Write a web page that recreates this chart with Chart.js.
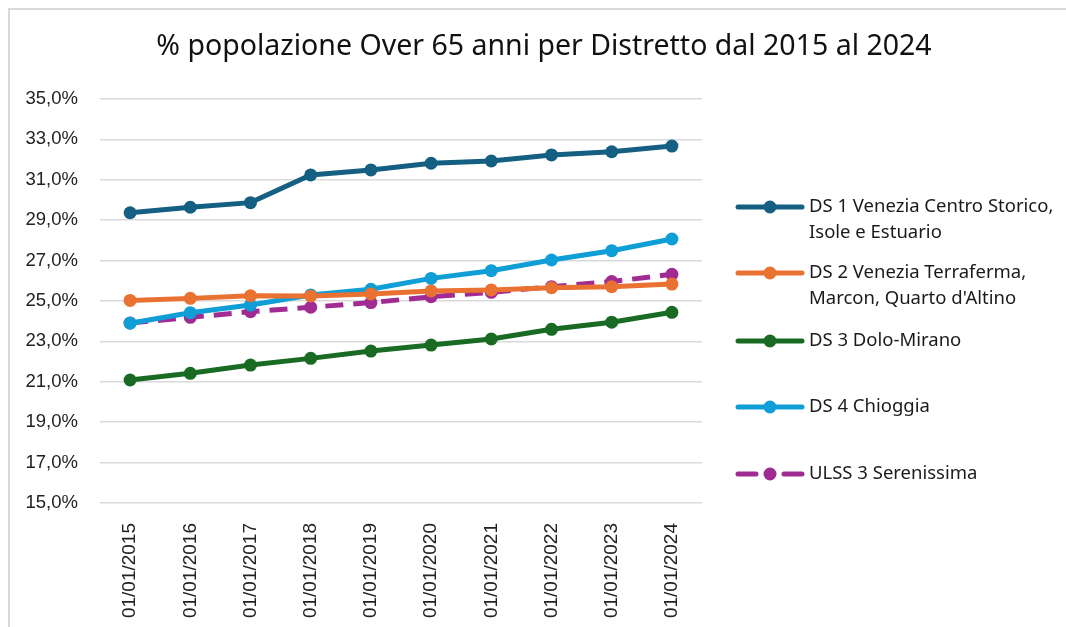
<!DOCTYPE html>
<html lang="it">
<head>
<meta charset="utf-8">
<title>% popolazione Over 65</title>
<script src="https://cdn.jsdelivr.net/npm/chart.js@4.4.1/dist/chart.umd.min.js"></script>
<style>
    body { margin: 0; background: #fff; }
    #chart-container { width: 1066px; height: 627px; }
</style>
</head>
<body>
<div id="chart-container">
    <canvas id="over65Chart" width="1066" height="627"></canvas>
</div>
<script>
// Etichette asse X (date di riferimento)
const DATE_LABELS = [
    '01/01/2015', '01/01/2016', '01/01/2017', '01/01/2018', '01/01/2019',
    '01/01/2020', '01/01/2021', '01/01/2022', '01/01/2023', '01/01/2024'
];

// Valori percentuali, uno per distretto
const DS1_VENEZIA_CS = [29.37, 29.64, 29.87, 31.24, 31.49, 31.82, 31.93, 32.23, 32.39, 32.67];
const DS2_TERRAFERMA = [25.03, 25.13, 25.26, 25.25, 25.35, 25.50, 25.55, 25.66, 25.71, 25.84];
const DS3_DOLO_MIRANO = [21.09, 21.42, 21.83, 22.16, 22.52, 22.82, 23.12, 23.60, 23.95, 24.44];
const DS4_CHIOGGIA = [23.90, 24.42, 24.80, 25.30, 25.58, 26.12, 26.50, 27.03, 27.49, 28.07];
const ULSS3_SERENISSIMA = [23.91, 24.19, 24.47, 24.69, 24.92, 25.21, 25.43, 25.71, 25.96, 26.32];

// Nomi delle serie (le righe della legenda)
const SERIES_NAMES = [
    ['DS 1 Venezia Centro Storico,', 'Isole e Estuario'],
    ['DS 2 Venezia Terraferma,', "Marcon, Quarto d'Altino"],
    ['DS 3 Dolo-Mirano'],
    ['DS 4 Chioggia'],
    ['ULSS 3 Serenissima']
];

const SERIES_COLORS = ['#156082', '#E97132', '#196B24', '#0F9ED5', '#A02B93'];

const Y_MIN = 15;
const Y_MAX = 35;
const Y_STEP = 2;

const TITLE_TEXT = '% popolazione Over 65 anni per Distretto dal 2015 al 2024';

document.addEventListener("DOMContentLoaded", () => {
    createOver65Chart();
});

/**
 * Formatta un valore come percentuale all'italiana (virgola decimale).
 */
function formatPercent(value) {
    return value.toFixed(1).replace('.', ',') + '%';
}

/**
 * Cornice grigia (solo lato superiore e sinistro visibili nel riferimento)
 * e titolo centrato su tutta la figura, non solo sull'area del grafico.
 */
const framePlugin = {
    id: 'frame',
    beforeDraw(chart) {
        const ctx = chart.ctx;
        ctx.save();
        ctx.strokeStyle = '#d9d9d9';
        ctx.lineWidth = 2;
        ctx.beginPath();
        ctx.moveTo(9, chart.height);
        ctx.lineTo(9, 9);
        ctx.lineTo(chart.width, 9);
        ctx.stroke();

        ctx.fillStyle = '#111';
        ctx.font = '28.5px "Noto Sans", sans-serif';
        ctx.textAlign = 'center';
        ctx.textBaseline = 'middle';
        ctx.fillText(TITLE_TEXT, 544, 47);
        ctx.restore();
    }
};

/**
 * Legenda disegnata a mano: Chart.js non manda a capo le etichette.
 */
const sideLegendPlugin = {
    id: 'sideLegend',
    afterDraw(chart) {
        const ctx = chart.ctx;
        const rowsY = [207, 273, 341, 407, 474];
        const lineGap = 26;
        const x0 = 738, x1 = 802, xm = 770, xText = 809;

        ctx.save();
        chart.data.datasets.forEach((ds, i) => {
            const y = rowsY[i];
            ctx.strokeStyle = ds.borderColor;
            ctx.lineWidth = 5;
            ctx.lineCap = 'round';
            if (ds.borderDash && ds.borderDash.length) {
                ctx.beginPath();
                ctx.moveTo(x0, y); ctx.lineTo(756, y);
                ctx.moveTo(784, y); ctx.lineTo(x1, y);
                ctx.stroke();
            } else {
                ctx.beginPath();
                ctx.moveTo(x0, y); ctx.lineTo(x1, y);
                ctx.stroke();
            }
            ctx.fillStyle = ds.borderColor;
            ctx.beginPath();
            ctx.arc(xm, y, 6.5, 0, Math.PI * 2);
            ctx.fill();

            ctx.fillStyle = '#1a1a1a';
            ctx.font = '18.5px "Noto Sans", sans-serif';
            ctx.textBaseline = 'middle';
            ctx.textAlign = 'left';
            ds.legendLines.forEach((line, k) => {
                ctx.fillText(line, xText, y + k * lineGap);
            });
        });
        ctx.restore();
    }
};

/**
 * Crea il grafico a linee.
 */
function createOver65Chart() {
    const ctx = document.getElementById('over65Chart').getContext('2d');
    const seriesValues = [DS1_VENEZIA_CS, DS2_TERRAFERMA, DS3_DOLO_MIRANO, DS4_CHIOGGIA, ULSS3_SERENISSIMA];

    const datasets = seriesValues.map((values, index) => {
        const color = SERIES_COLORS[index];
        return {
            label: SERIES_NAMES[index].join(' '),
            legendLines: SERIES_NAMES[index],
            data: values,
            borderColor: color,
            backgroundColor: color,
            borderWidth: 5,
            borderDash: index === 4 ? [18, 10] : [],
            fill: false,
            tension: 0,
            pointRadius: 6.5,
            pointBorderWidth: 0,
            pointBackgroundColor: color
        };
    });

    window.over65Chart = new Chart(ctx, {
        type: 'line',
        data: {
            labels: DATE_LABELS,
            datasets: datasets
        },
        options: {
            responsive: false,
            animation: false,
            layout: {
                padding: { left: 0, right: 364, top: 99, bottom: 0 }
            },
            scales: {
                x: {
                    offset: true,
                    grid: { display: false },
                    border: { display: false },
                    ticks: {
                        minRotation: 90,
                        maxRotation: 90,
                        padding: 12,
                        color: '#222',
                        font: { family: '"Liberation Sans", Arial, sans-serif', size: 19 }
                    },
                    afterFit: (scale) => { scale.height = 124; }
                },
                y: {
                    min: Y_MIN,
                    max: Y_MAX,
                    grid: { color: '#d9d9d9', lineWidth: 1.5, drawTicks: false },
                    border: { display: false },
                    ticks: {
                        stepSize: Y_STEP,
                        padding: 22,
                        color: '#222',
                        font: { family: '"Liberation Sans", Arial, sans-serif', size: 18.5 },
                        callback: (value) => formatPercent(value)
                    },
                    afterFit: (scale) => { scale.width = 100; }
                }
            },
            plugins: {
                legend: { display: false },
                tooltip: { enabled: false },
                title: { display: false }
            }
        },
        plugins: [framePlugin, sideLegendPlugin]
    });
}
</script>
</body>
</html>
